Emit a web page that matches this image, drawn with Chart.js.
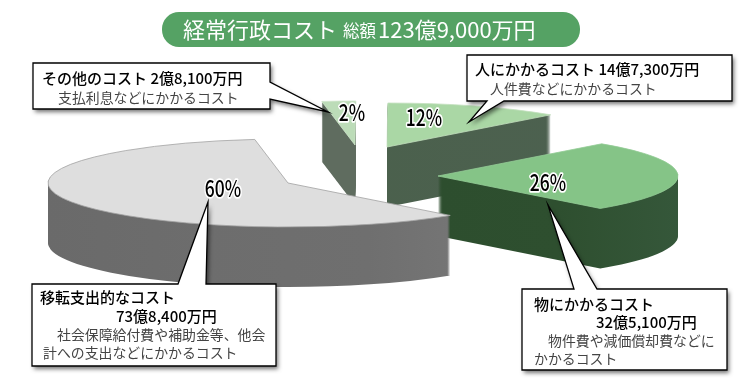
<!DOCTYPE html>
<html lang="ja"><head><meta charset="utf-8">
<style>html,body{margin:0;padding:0;background:#fff}#wrap{width:740px;height:379px;position:relative}</style>
<script src="https://cdn.jsdelivr.net/npm/chart.js@4/dist/chart.umd.js"></script>
</head><body><div id="wrap"><canvas id="c" width="740" height="379"></canvas></div>
<script>
const categories = ['人にかかるコスト', '物にかかるコスト', '移転支出的なコスト', 'その他のコスト'];
const amounts = [147300, 325100, 738400, 28100]; // 万円
const topColors = ['#aad7a5', '#85c487', '#dedede', '#bcdcb8'];
const edgeColors = ['#c3e0be', '#93cc95', '#a2a2a2', '#cfe5cb'];
const wallColors = [['#49604a','#4d6150'], ['#2d4e2e','#2d4e2e','#2d4e2e','#2e4f2f','#35573a'], ['#6a6a6a','#6d6d6d','#6f6f6f','#7a7a7a'], ['#5f6c5f','#5f6c5f']];

const FONT = '"Noto Sans CJK JP","Noto Sans",sans-serif';
// exploded apex of every slice, squash and depth of the 3D view
const apexX = [387, 438, 288, 355], apexY = [147, 176, 183, 145];
const squash = 44 / 240, depth = 60, radius = 240;
const drawOrder = [0, 3, 1, 2];
const labelPos = [[424,117],[548,182],[223,188],[352,112]];

const callouts = [
 {outline:[[33,63],[270,63],[270,82],[328,112],[270,99],[270,109],[33,109]], lines:[
   ['その他のコスト 2億8,100万円',42,78,1],['支払利息などにかかるコスト',58,98,0]]},
 {outline:[[467,55],[732,55],[732,101],[504,101],[469,122],[487,101],[467,101]], lines:[
   ['人にかかるコスト 14億7,300万円',475,69,1],['人件費などにかかるコスト',490,89,0]]},
 {outline:[[32,284],[178,284],[208,202],[206,284],[276,284],[276,366],[32,366]], lines:[
   ['移転支出的なコスト',40,297,1],['73億8,400万円',116,316,1],['社会保障給付費や補助金等、他会',57,335,0],['計への支出などにかかるコスト',43,353,0]]},
 {outline:[[522,289],[574,289],[548,205],[597,289],[727,289],[727,370],[522,370]], lines:[
   ['物にかかるコスト',534,304,1],['32億5,100万円',596,322,1],['物件費や減価償却費などに',548,341,0],['かかるコスト',534,359,0]]}
];

function place(ctx, el, i, dy){
  ctx.translate(apexX[i], apexY[i] + dy);
  ctx.scale(1, squash);
  ctx.translate(-el.x, -el.y);
}
function slicePath(ctx, p, i, dy){
  ctx.save();
  place(ctx,p,i,dy);
  ctx.beginPath();
  ctx.moveTo(p.x,p.y);
  ctx.arc(p.x,p.y,p.outerRadius,p.startAngle,p.endAngle);
  ctx.closePath();
  ctx.restore();
}
function drawCallout(ctx, c){
  const path = () => {
    ctx.beginPath();
    c.outline.forEach(([x,y],k)=> k ? ctx.lineTo(x,y) : ctx.moveTo(x,y));
    ctx.closePath();
  };
  ctx.save();
  ctx.shadowColor='rgba(0,0,0,.55)';ctx.shadowBlur=4;ctx.shadowOffsetX=2;ctx.shadowOffsetY=3;
  ctx.fillStyle='#fff';
  path();ctx.fill();
  ctx.restore();
  ctx.save();
  ctx.lineWidth=1.3;ctx.strokeStyle='#000';ctx.lineJoin='miter';
  path();ctx.stroke();
  ctx.restore();
  ctx.textBaseline='middle';ctx.textAlign='left';
  for(const [t,tx,ty,strong] of c.lines){
    ctx.font=(strong?'500 15px ':'400 13.9px ')+FONT;
    ctx.fillStyle=strong?'#000':'#444';
    ctx.fillText(t,tx,ty);
  }
}
const pie3d = {
  id:'pie3d',
  beforeDatasetsDraw(chart){
    const ctx=chart.ctx, els=chart.getDatasetMeta(0).data;
    const total=amounts.reduce((a,b)=>a+b,0);
    for(const i of drawOrder){
      const el=els[i];
      const p=el.getProps(['x','y','startAngle','endAngle','outerRadius'],true);
      const l=apexX[i]-radius, r=apexX[i]+radius;
      const g=ctx.createLinearGradient(l,0,r,0);
      wallColors[i].forEach((col,k,a)=>g.addColorStop(k/(a.length-1),col));
      ctx.fillStyle=g;
      for(let d=depth;d>0;d--){
        slicePath(ctx,p,i,d);
        ctx.fill();
      }
      // top face through the library's arc element
      ctx.save();
      place(ctx,p,i,0);
      el.draw(ctx);
      ctx.restore();
      slicePath(ctx,p,i,0);
      ctx.lineWidth=0.8;ctx.strokeStyle=edgeColors[i];ctx.stroke();
    }
    // title pill
    ctx.save();
    ctx.fillStyle='#55a264';
    ctx.beginPath();ctx.roundRect(162,12,418,35,17);ctx.fill();
    ctx.fillStyle='#fff';ctx.textBaseline='middle';ctx.textAlign='left';
    ctx.font='400 22px '+FONT;ctx.fillText('経常行政コスト',183,30);
    ctx.font='400 16.5px '+FONT;ctx.fillText('総額',343,31);
    ctx.font='400 22px '+FONT;ctx.fillText('123億9,000万円',378,30);
    ctx.restore();
    callouts.forEach(c=>drawCallout(ctx,c));
    // percent labels
    amounts.forEach((v,i)=>{
      const t=Math.round(v/total*100)+'%';
      ctx.save();
      ctx.translate(labelPos[i][0],labelPos[i][1]);
      ctx.scale(0.76,1);
      ctx.font='500 23px '+FONT;ctx.textAlign='center';ctx.textBaseline='middle';
      ctx.lineJoin='round';
      ctx.lineWidth=3.5;ctx.strokeStyle='#fff';ctx.strokeText(t,0,0);
      ctx.fillStyle='#000';ctx.fillText(t,0,0);
      ctx.restore();
    });
    return false;
  }
};
new Chart(document.getElementById('c'),{
  type:'pie',
  data:{labels:categories,datasets:[{data:amounts,backgroundColor:topColors,borderWidth:0,hoverOffset:0}]},
  options:{responsive:false,animation:false,rotation:0.2,radius:radius,
    layout:{padding:0},plugins:{legend:{display:false},tooltip:{enabled:false},title:{display:false}}},
  plugins:[pie3d]
});
</script></body></html>
